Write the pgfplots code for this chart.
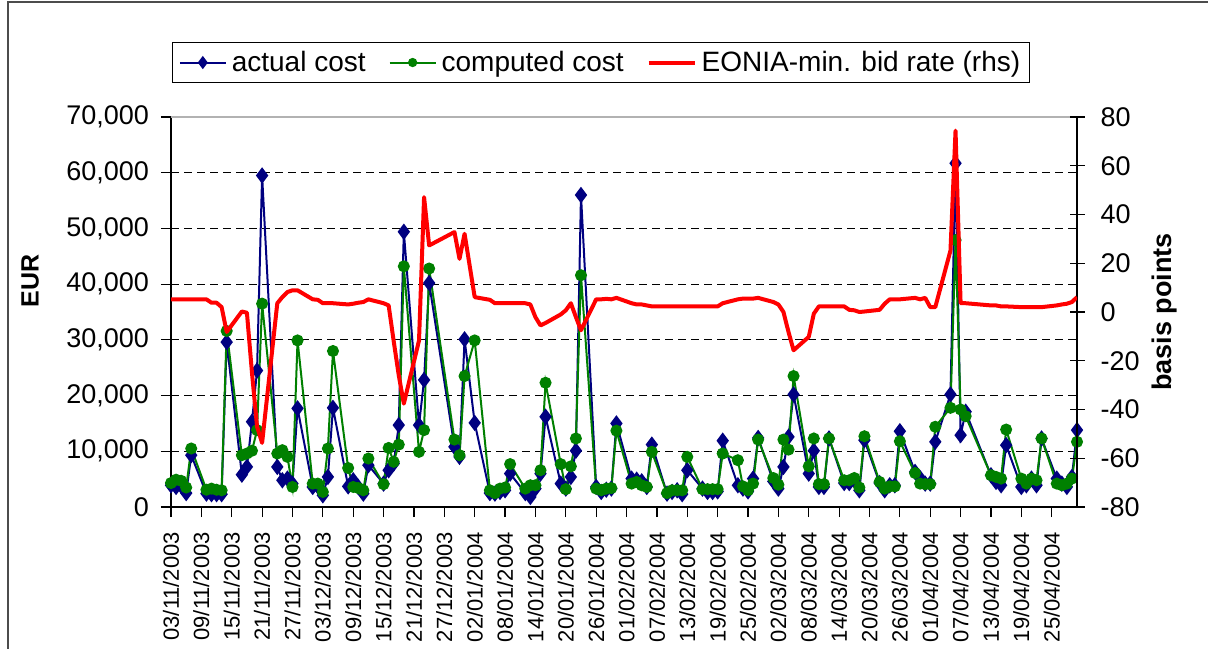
\documentclass[border=0pt]{standalone}
\usepackage{fontspec}
\setmainfont{Liberation Sans}
\usepackage{pgfplots}
\usepackage{pgfplotstable}
\pgfplotsset{compat=1.18}
\usetikzlibrary{calc}

\definecolor{navyc}{HTML}{000080}
\definecolor{greenc}{HTML}{008000}
\definecolor{redc}{HTML}{FF0000}

% day 0 = 03/11/2003, business days only (TARGET holidays skipped)
\pgfplotstableread{
day actual computed
0 3900 4300
1 3600 4900
2 3800 4700
3 2500 3500
4 9300 10500
7 2400 3100
8 2300 3300
9 2300 3100
10 2300 3000
11 29600 31600
14 5800 9300
15 7200 9600
16 15300 10100
17 24500 13800
18 59500 36500
21 7200 9600
22 4800 10200
23 5100 9000
24 4200 3600
25 17700 29900
28 3600 4200
29 3700 4200
30 2100 2700
31 5400 10500
32 17800 28000
35 3700 7000
36 4800 3600
37 3600 3400
38 2400 3000
39 7500 8700
42 4200 4100
43 6600 10600
44 7800 8100
45 14700 11200
46 49400 43200
49 14700 9900
50 22800 13800
51 40200 42800
56 10800 12100
57 9000 9300
58 30100 23500
60 15100 29900
63 2500 3000
64 2400 2500
65 2700 3300
66 3000 3500
67 6000 7700
70 2500 3300
71 1800 3900
72 3300 3900
73 6000 6600
74 16200 22300
77 4200 7700
78 3300 3200
79 5400 7300
80 10100 12300
81 56000 41600
84 3600 3300
85 2700 3000
86 3100 3300
87 3300 3400
88 15000 13700
91 5100 4200
92 4900 4500
93 4600 3900
94 3600 3600
95 11200 9900
98 2400 2500
99 2700 3000
100 3000 3000
101 2300 3000
102 6600 9000
105 3300 3200
106 2700 3200
107 2700 3200
108 2800 3200
109 11900 9600
112 3900 8400
113 3300 3700
114 2800 3000
115 5100 4200
116 12400 12100
119 4600 5200
120 3300 4000
121 7200 12100
122 12600 10300
123 20200 23500
126 6000 7300
127 10100 12300
128 3600 4100
129 3600 4100
130 12300 12300
133 4300 4800
134 4300 4800
135 4800 5200
136 3000 3500
137 12000 12700
140 4300 4500
141 3000 3300
142 3900 3700
143 3900 3700
144 13600 11800
147 6300 6100
148 5200 4200
149 4200 4100
150 4200 4100
151 11700 14400
154 20200 17800
155 61700 47900
156 12900 17500
157 17100 16300
162 5700 5700
163 4500 5400
164 3900 5100
165 11100 13900
168 3600 5100
169 3900 4200
170 5100 5100
171 3900 4800
172 12300 12300
175 5100 4200
176 4200 3900
177 3600 4200
178 5400 5100
179 13800 11700
}\costs

\pgfplotstableread{
day bp
0 5.2
1 5.2
2 5.2
3 5.2
4 5.2
7 5.2
8 3.8
9 3.8
10 2.0
11 -8.2
14 0.2
15 -0.3
16 -25
17 -47
18 -53.7
21 3.6
22 6.1
23 8.2
24 8.9
25 8.9
28 5.2
29 5.0
30 3.6
31 3.6
32 3.6
35 3.1
36 3.4
37 3.8
38 4.1
39 5.2
42 3.6
43 2.7
44 -12
45 -26
46 -37.6
49 -11.7
50 47.1
51 27.3
56 32.8
57 21.8
58 32.1
60 6.1
63 5.0
64 3.6
65 3.6
66 3.6
67 3.6
70 3.6
71 3.1
72 -2.1
73 -5.5
74 -4.5
77 -1.0
78 0.7
79 3.6
80 -2.1
81 -7.5
84 5.2
85 5.2
86 5.4
87 5.2
88 5.8
91 3.6
92 3.1
93 3.1
94 2.7
95 2.3
98 2.3
99 2.3
100 2.3
101 2.3
102 2.3
105 2.3
106 2.3
107 2.3
108 2.3
109 3.6
112 5.2
113 5.5
114 5.5
115 5.5
116 5.8
119 4.1
120 3.1
121 0.0
122 -8.2
123 -15.7
126 -10.2
127 -0.7
128 2.3
129 2.3
130 2.3
133 2.3
134 0.9
135 0.7
136 0.0
137 0.2
140 0.9
141 3.4
142 5.2
143 5.2
144 5.2
147 5.8
148 5.2
149 5.8
150 2.0
151 2.0
154 25.2
155 74.4
156 3.6
157 3.6
162 2.7
163 2.7
164 2.3
165 2.3
168 2.0
169 2.0
170 2.0
171 2.0
172 2.0
175 2.7
176 3.1
177 3.4
178 4.1
179 6.1
}\spread

\pgfplotsset{
  every axis/.append style={
    scale only axis, width=453pt, height=195pt,
    xmin=0, xmax=179,
    /pgf/number format/assume math mode=true,
    tick style={black, line width=0.6pt},
    axis line style={black, line width=0.8pt},
  },
}

\begin{document}
\begin{tikzpicture}
\begin{axis}[
  name=main,
  ymin=0, ymax=70000,
  ytick={0,10000,...,70000},
  scaled y ticks=false,
  /pgf/number format/1000 sep={,},
  ytick pos=left, xtick pos=bottom,
  tick align=outside, major tick length=5pt,
  xtick={0,6,...,174},
  xticklabels={03/11/2003,09/11/2003,15/11/2003,21/11/2003,27/11/2003,03/12/2003,09/12/2003,15/12/2003,21/12/2003,27/12/2003,02/01/2004,08/01/2004,14/01/2004,20/01/2004,26/01/2004,01/02/2004,07/02/2004,13/02/2004,19/02/2004,25/02/2004,02/03/2004,08/03/2004,14/03/2004,20/03/2004,26/03/2004,01/04/2004,07/04/2004,13/04/2004,19/04/2004,25/04/2004},
  x tick label style={rotate=90, anchor=east, font=\fontsize{11}{11}\selectfont},
  xticklabel shift=4pt,
  y tick label style={font=\fontsize{13.5}{13.5}\selectfont, xshift=-2.5pt},
  ymajorgrids,
  grid style={black, line width=0.5pt, dash pattern=on 4pt off 2.5pt},
  every axis y label/.style={at={(axis description cs:-0.1556,0.58)}, rotate=90, anchor=center},
  ylabel={\fontsize{12.5}{12.5}\selectfont\bfseries EUR},
  clip=false,
]
\addplot[navyc, line width=1pt, mark=diamond*, mark size=3.3pt,
  mark options={fill=navyc, draw=navyc}] table[x=day, y=actual] {\costs};
\addplot[greenc, line width=1pt, mark=*, mark size=2.5pt,
  mark options={fill=greenc, draw=greenc}] table[x=day, y=computed] {\costs};
\draw[gray!60, line width=1pt] (rel axis cs:0,1) -- (rel axis cs:1,1);
\end{axis}
\begin{axis}[
  ymin=-80, ymax=80,
  ytick={-80,-60,...,80},
  axis x line=none,
  axis y line*=right,
  axis line style={-},
  tick align=center, major tick length=7.5pt,
  y tick label style={font=\fontsize{13.5}{13.5}\selectfont, xshift=4.5pt},
  every axis y label/.style={at={(axis description cs:1.097,0.5)}, rotate=90, anchor=center},
  ylabel={\fontsize{13.5}{13.5}\selectfont\bfseries basis points},
  legend columns=3,
  legend style={at={(0.4746,1.1397)}, anchor=center, draw=black, line width=0.6pt,
    font=\fontsize{14}{15}\selectfont, inner ysep=2pt, inner xsep=3pt,
    nodes={inner xsep=1.5pt},
    /tikz/every odd column/.append style={column sep=1pt},
    /tikz/every even column/.append style={column sep=10pt}},
  legend image code/.code={\draw[mark repeat=2, mark phase=2, #1]
    plot coordinates {(0pt,0pt) (11.5pt,0pt) (23pt,0pt)};},
]
\addlegendimage{navyc, line width=1pt, mark=diamond*, mark size=2.5pt, mark options={fill=navyc, draw=navyc}}
\addlegendentry{actual cost}
\addlegendimage{greenc, line width=1pt, mark=*, mark size=1.8pt, mark options={fill=greenc, draw=greenc}}
\addlegendentry{computed cost}
\addplot[redc, line width=2pt, line join=round] table[x=day, y=bp] {\spread};
\addlegendentry{EONIA-min. bid rate (rhs)}
\end{axis}
\draw[black!70, line width=0.8pt] ($(main.south west)+(-81.5pt,-80pt)$) -- ($(main.south west)+(-81.5pt,252.5pt)$) -- ($(main.south west)+(530pt,252.5pt)$);
\pgfresetboundingbox
\path[use as bounding box] ($(main.south west)+(-85.5pt,-70.5pt)$) rectangle ($(main.south west)+(518.5pt,253.5pt)$);
\end{tikzpicture}
\end{document}
